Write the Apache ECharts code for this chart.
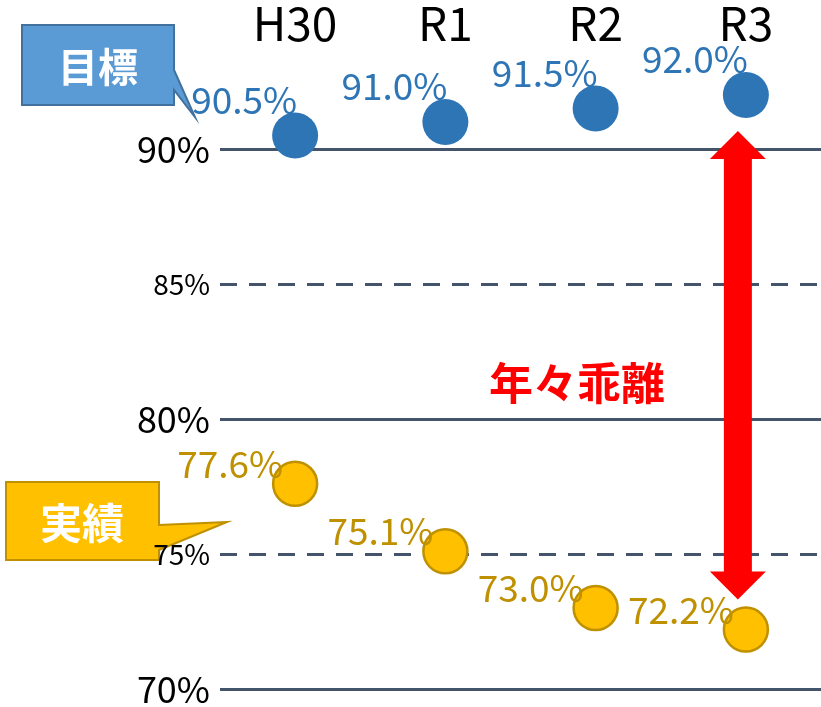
<!DOCTYPE html>
<html>
<head>
<meta charset="utf-8">
<script src="https://cdn.jsdelivr.net/npm/echarts@6/dist/echarts.min.js"></script>
<style>
  html, body { margin: 0; padding: 0; background: #fff; }
  #show { width: 821px; height: 707px; }
</style>
</head>
<body>
<div id="show"></div>
<script>
// 年度
var years = ['H30', 'R1', 'R2', 'R3'];
// 目標 (%)
var targetData = [90.5, 91.0, 91.5, 92.0];
// 実績 (%)
var actualData = [77.6, 75.1, 73.0, 72.2];
// 目盛
var yMin = 70;
var yMax = 90;
var yStep = 5;

var font = '"Noto Sans CJK JP", "Noto Sans", sans-serif';
var lineColor = '#44546a';

let myChart = echarts.init(document.getElementById('show'));

myChart.setOption({
  animation: false,
  textStyle: { fontFamily: font },
  grid: { left: 220, right: 0, top: 149, bottom: 14 },
  xAxis: {
    type: 'category',
    position: 'top',
    data: years,
    boundaryGap: true,
    axisLine: { show: false },
    axisTick: { show: false },
    axisLabel: {
      margin: 125,
      verticalAlign: 'middle',
      color: '#000',
      fontSize: 46,
      fontFamily: font
    }
  },
  yAxis: [{
    // 実線 (90%, 80%, 70%)
    type: 'value',
    min: yMin,
    max: yMax,
    interval: yStep,
    axisLine: { show: false },
    axisTick: { show: false },
    axisLabel: { show: false },
    splitLine: {
      lineStyle: { color: [lineColor, 'rgba(0,0,0,0)'], width: 3, type: 'solid' }
    }
  }, {
    // 破線 (85%, 75%)
    type: 'value',
    position: 'left',
    min: yMin,
    max: yMax,
    interval: yStep,
    axisLine: { show: false },
    axisTick: { show: false },
    axisLabel: { show: false },
    splitLine: {
      lineStyle: { color: ['rgba(0,0,0,0)', lineColor], width: 3, type: [17, 12] }
    }
  }, {
    // 目盛ラベルだけ (吹き出しより前に出す)
    type: 'value',
    position: 'left',
    min: yMin,
    max: yMax,
    interval: yStep,
    z: 20,
    axisLine: { show: false },
    axisTick: { show: false },
    splitLine: { show: false },
    axisLabel: {
      margin: 10,
      formatter: function (v) {
        return v % 10 === 0 ? '{big|' + v + '%}' : '{small|' + v + '%}';
      },
      rich: {
        big: { fontSize: 36, color: '#000', fontFamily: font },
        small: { fontSize: 28, color: '#000', fontFamily: font }
      }
    }
  }],
  series: [{
    name: '目標',
    type: 'scatter',
    clip: false,
    data: targetData,
    symbolSize: 46,
    itemStyle: { color: '#2e75b6', opacity: 1 },
    label: {
      show: true,
      position: 'inside',
      offset: [-51, -36],
      formatter: function (p) { return p.value.toFixed(1) + '%'; },
      color: '#2e75b6',
      fontSize: 37,
      fontFamily: font
    },
    z: 3
  }, {
    name: '実績',
    type: 'scatter',
    clip: false,
    data: actualData,
    symbolSize: 44,
    itemStyle: { color: '#ffc000', borderColor: '#bf9000', borderWidth: 2.5, opacity: 1 },
    label: {
      show: true,
      position: 'inside',
      offset: [-65, -20],
      formatter: function (p) { return p.value.toFixed(1) + '%'; },
      color: '#bf9000',
      fontSize: 37,
      fontFamily: font
    },
    z: 3
  }]
});

// 乖離の矢印 (R3の目標と実績の間)
var last = years.length - 1;
var pTop = myChart.convertToPixel({ xAxisIndex: 0, yAxisIndex: 0 }, [last, targetData[last]]);
var pBot = myChart.convertToPixel({ xAxisIndex: 0, yAxisIndex: 0 }, [last, actualData[last]]);
var ax = pTop[0] - 8;
var y1 = pTop[1] + 36;
var y2 = pBot[1] - 30;
var shaft = 14, head = 28, headLen = 28;

myChart.setOption({
  graphic: [{
    type: 'polygon',
    shape: {
      points: [
        [ax, y1], [ax + head, y1 + headLen], [ax + shaft, y1 + headLen],
        [ax + shaft, y2 - headLen], [ax + head, y2 - headLen], [ax, y2],
        [ax - head, y2 - headLen], [ax - shaft, y2 - headLen],
        [ax - shaft, y1 + headLen], [ax - head, y1 + headLen]
      ]
    },
    style: { fill: '#ff0000' },
    z: 10
  }, {
    type: 'text',
    x: 577,
    y: 383,
    style: {
      text: '年々乖離',
      fill: '#ff0000',
      font: 'bold 44px ' + font,
      align: 'center',
      verticalAlign: 'middle'
    },
    z: 10
  }, {
    // 目標 吹き出し
    type: 'polygon',
    shape: {
      points: [[22, 25], [174, 25], [174, 70], [195, 117], [174, 90], [174, 105], [22, 105]]
    },
    style: { fill: '#5b9bd5', stroke: '#41719c', lineWidth: 2 },
    z: 10
  }, {
    type: 'text',
    x: 98,
    y: 67,
    style: {
      text: '目標',
      fill: '#fff',
      font: 'bold 40px ' + font,
      align: 'center',
      verticalAlign: 'middle'
    },
    z: 11
  }, {
    // 実績 吹き出し
    type: 'polygon',
    shape: {
      points: [[6, 482], [159, 482], [159, 525], [227, 522], [159, 550], [159, 560], [6, 560]]
    },
    style: { fill: '#ffc000', stroke: '#bf9000', lineWidth: 2 },
    z: 10
  }, {
    type: 'text',
    x: 82,
    y: 523,
    style: {
      text: '実績',
      fill: '#fff',
      font: 'bold 42px ' + font,
      align: 'center',
      verticalAlign: 'middle'
    },
    z: 11
  }]
});
</script>
</body>
</html>
